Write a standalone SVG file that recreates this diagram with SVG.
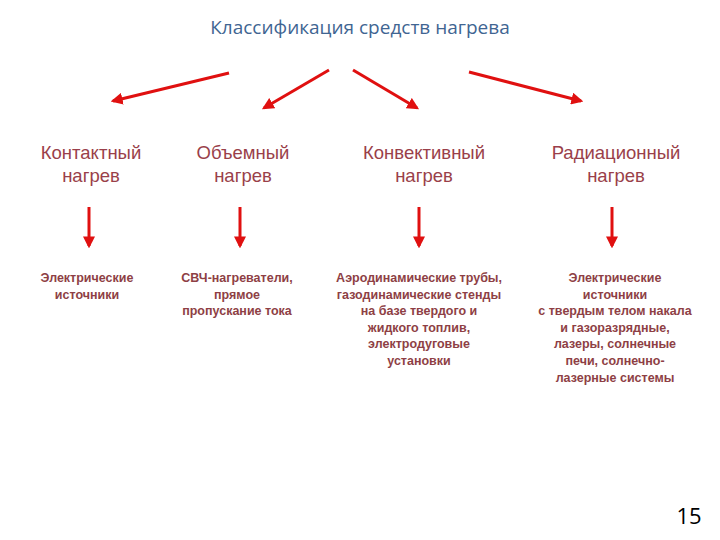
<svg xmlns="http://www.w3.org/2000/svg" width="720" height="540" viewBox="0 0 720 540">
<style>
.t{font-family:"Open Sans","DejaVu Sans",sans-serif;font-size:19px;fill:#3f6592;text-anchor:middle}
.h{font-family:"Liberation Sans",Arial,sans-serif;font-size:18.5px;fill:#9a3f4a;text-anchor:middle}
.s{font-family:"Liberation Sans",Arial,sans-serif;font-size:12.5px;font-weight:bold;fill:#8e3f45;text-anchor:middle}
.a{stroke:#e01010;stroke-width:3;fill:none;marker-end:url(#m)}
</style>
<defs><marker id="m" viewBox="0 0 10 10" refX="8" refY="5" markerWidth="4" markerHeight="4" orient="auto" markerUnits="strokeWidth"><path d="M0,0L10,5L0,10z" fill="#e01010"/></marker></defs>
<text class="t" x="360" y="34">Классификация средств нагрева</text>
<g id="connectors">
<line class="a" x1="229" y1="73" x2="113" y2="101"/>
<line class="a" x1="329" y1="70" x2="264" y2="108"/>
<line class="a" x1="353" y1="70" x2="417" y2="108"/>
<line class="a" x1="469" y1="72" x2="581" y2="101"/>
<line class="a" x1="89" y1="207" x2="89" y2="246"/>
<line class="a" x1="240" y1="207" x2="240" y2="246"/>
<line class="a" x1="419" y1="207" x2="419" y2="246"/>
<line class="a" x1="612" y1="207" x2="612" y2="246"/>
</g>
<g id="n1"><text class="h" x="91" y="159">Контактный</text><text class="h" x="91" y="182">нагрев</text>
<text class="s" x="87" y="282">Электрические</text><text class="s" x="87" y="299">источники</text></g>
<g id="n2"><text class="h" x="243" y="159">Объемный</text><text class="h" x="243" y="182">нагрев</text>
<text class="s" x="237" y="282">СВЧ-нагреватели,</text><text class="s" x="237" y="299">прямое</text><text class="s" x="237" y="315">пропускание тока</text></g>
<g id="n3"><text class="h" x="424" y="159">Конвективный</text><text class="h" x="424" y="182">нагрев</text>
<text class="s" x="419" y="282">Аэродинамические трубы,</text><text class="s" x="419" y="299">газодинамические стенды</text><text class="s" x="419" y="315">на базе твердого и</text><text class="s" x="419" y="332">жидкого топлив,</text><text class="s" x="419" y="348">электродуговые</text><text class="s" x="419" y="365">установки</text></g>
<g id="n4"><text class="h" x="616" y="159">Радиационный</text><text class="h" x="616" y="182">нагрев</text>
<text class="s" x="615" y="282">Электрические</text><text class="s" x="615" y="299">источники</text><text class="s" x="615" y="315">с твердым телом накала</text><text class="s" x="615" y="332">и газоразрядные,</text><text class="s" x="615" y="348">лазеры, солнечные</text><text class="s" x="615" y="365">печи, солнечно-</text><text class="s" x="615" y="382">лазерные системы</text></g>
<text x="689" y="524" font-family="Open Sans, DejaVu Sans, sans-serif" font-size="22" fill="#000" text-anchor="middle">15</text>
</svg>
